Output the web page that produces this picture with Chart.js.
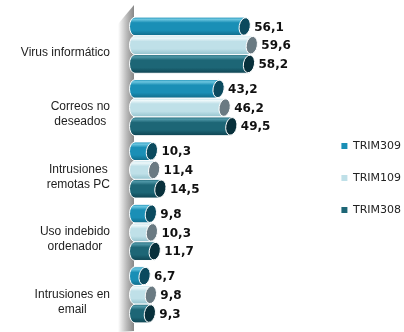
<!DOCTYPE html>
<html>
<head>
<meta charset="utf-8">
<script src="https://cdn.jsdelivr.net/npm/chart.js@4/dist/chart.umd.min.js"></script>
<style>
  html, body { margin: 0; padding: 0; background: #fff; }
  #wrap { width: 404px; height: 332px; }
</style>
</head>
<body>
<div id="wrap"><canvas id="chart"></canvas></div>
<script>
'use strict'

var categories = [
  ['Virus informático'],
  ['Correos no', 'deseados'],
  ['Intrusiones', 'remotas PC'],
  ['Uso indebido', 'ordenador'],
  ['Intrusiones en', 'email']
];
var seriesNames = ['TRIM309', 'TRIM109', 'TRIM308'];
var trim309 = [56.1, 43.2, 10.3, 9.8, 6.7];
var trim109 = [59.6, 46.2, 11.4, 10.3, 9.8];
var trim308 = [58.2, 49.5, 14.5, 11.7, 9.3];

// shading for each cylinder: top highlight, body, bottom shade, end cap
var palette = [
  { top: '#6cc6e0', body: '#1a8fb6', low: '#106a87', cap: '#0b4a5e' },
  { top: '#eef8fa', body: '#bfe0e8', low: '#93c2cd', cap: '#6a7a82' },
  { top: '#4f97a7', body: '#1d6676', low: '#0e4351', cap: '#08303b' }
];

// nudge the legend a little right and down from where the layout puts it
var legendNudge = {
  id: 'legendNudge',
  afterLayout: function (chart) {
    var lg = chart.legend;
    lg.left += 7; lg.right += 7;
    lg.top += 8; lg.bottom += 8;
  }
};

var cylinders = {
  id: 'cylinders',
  beforeDatasetsDraw: function (chart) {
    var ctx = chart.ctx;
    var area = chart.chartArea;

    // side wall
    ctx.save();
    var wg = ctx.createLinearGradient(area.left - 13, 0, area.left + 3, 0);
    wg.addColorStop(0, 'rgba(255,255,255,1)');
    wg.addColorStop(0.55, '#b9b9b9');
    wg.addColorStop(1, '#878787');
    ctx.fillStyle = wg;
    ctx.beginPath();
    ctx.moveTo(area.left - 13, 24);
    ctx.lineTo(area.left + 3, 5);
    ctx.lineTo(area.left + 3, 331);
    ctx.lineTo(area.left - 13, 332);
    ctx.closePath();
    ctx.fill();
    ctx.restore();

    chart.data.datasets.forEach(function (ds, di) {
      var meta = chart.getDatasetMeta(di);
      var c = palette[di];
      meta.data.forEach(function (bar, i) {
        var h = bar.height;
        var top = bar.y - h / 2;
        var bottom = bar.y + h / 2;
        var rx = 5.5;
        var left = bar.base + 4;
        var right = bar.x;

        var g = ctx.createLinearGradient(0, top, 0, bottom);
        g.addColorStop(0, c.body);
        g.addColorStop(0.12, c.top);
        g.addColorStop(0.3, c.body);
        g.addColorStop(0.7, c.body);
        g.addColorStop(1, c.low);

        ctx.save();
        ctx.beginPath();
        ctx.moveTo(left, top);
        ctx.lineTo(right, top);
        ctx.lineTo(right, bottom);
        ctx.lineTo(left, bottom);
        ctx.ellipse(left, bar.y, rx, h / 2, 0, Math.PI / 2, Math.PI * 1.5);
        ctx.closePath();
        ctx.fillStyle = g;
        ctx.fill();
        ctx.strokeStyle = '#ffffff';
        ctx.lineWidth = 1;
        ctx.stroke();

        ctx.beginPath();
        ctx.ellipse(right, bar.y, rx, h / 2 - 0.5, 0.18, 0, Math.PI * 2);
        ctx.fillStyle = c.cap;
        ctx.fill();
        ctx.stroke();

        ctx.fillStyle = '#111';
        ctx.font = 'bold 12px "DejaVu Sans"';
        ctx.textAlign = 'left';
        ctx.textBaseline = 'middle';
        ctx.fillText(String(ds.data[i]).replace('.', ','), right + rx + 4, bar.y + 1);
        ctx.restore();
      });
    });

    // category labels, lines centred inside a right-aligned block
    var yScale = chart.scales.y;
    ctx.save();
    ctx.font = '12px "Liberation Sans"';
    ctx.fillStyle = '#1e1e1e';
    ctx.textBaseline = 'middle';
    ctx.textAlign = 'center';
    categories.forEach(function (lines, i) {
      var w = 0;
      lines.forEach(function (l) { w = Math.max(w, ctx.measureText(l).width); });
      var cx = 110 - w / 2;
      var cy = yScale.getPixelForValue(i) + 7;
      var lh = 15;
      lines.forEach(function (l, k) {
        ctx.fillText(l, cx, cy + (k - (lines.length - 1) / 2) * lh);
      });
    });
    ctx.restore();

    return false;
  }
};

new Chart(document.getElementById('chart'), {
  type: 'bar',
  data: {
    labels: categories,
    datasets: [
      { label: seriesNames[0], data: trim309, backgroundColor: palette[0].body },
      { label: seriesNames[1], data: trim109, backgroundColor: palette[1].body },
      { label: seriesNames[2], data: trim308, backgroundColor: palette[2].body }
    ]
  },
  options: {
    indexAxis: 'y',
    responsive: true,
    maintainAspectRatio: false,
    animation: false,
    datasets: { bar: { categoryPercentage: 0.9, barPercentage: 1.0 } },
    layout: { padding: { left: 131, top: 14, bottom: 6, right: 0 } },
    scales: {
      x: { display: false, min: 0, max: 90 },
      y: { display: false }
    },
    plugins: {
      tooltip: { enabled: false },
      legend: {
        position: 'right',
        align: 'center',
        labels: {
          boxWidth: 6,
          boxHeight: 6,
          padding: 21,
          color: '#222',
          font: { family: 'DejaVu Sans', size: 11 }
        }
      }
    }
  },
  plugins: [legendNudge, cylinders]
});
</script>
</body>
</html>
